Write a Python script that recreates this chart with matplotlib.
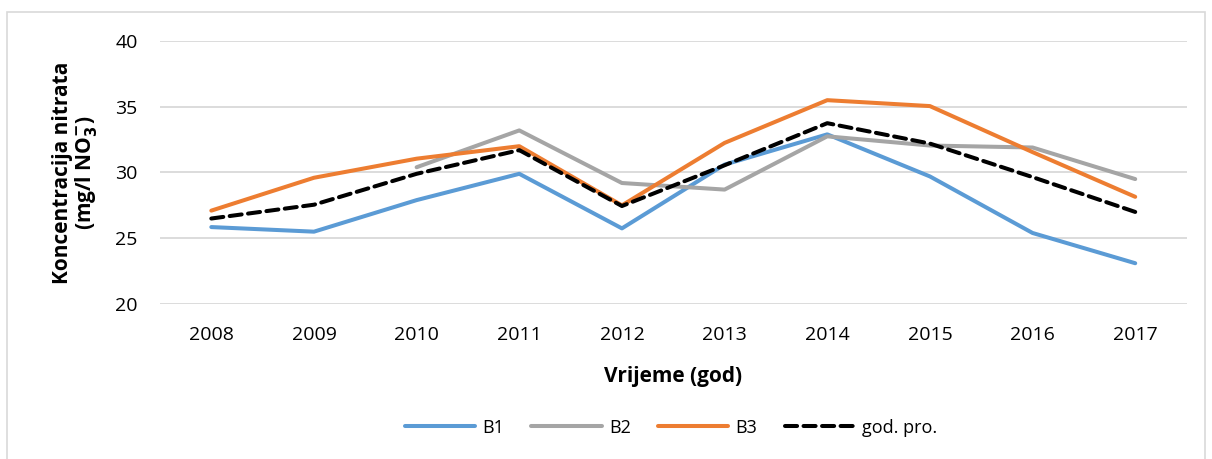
import numpy as np
import matplotlib
matplotlib.use('Agg')
import matplotlib.pyplot as plt
from matplotlib.patches import Rectangle

plt.rcParams['font.family'] = ['Open Sans', 'DejaVu Sans']

# nitrate concentration per year for the three wells and the yearly mean
years = ['2008', '2009', '2010', '2011', '2012', '2013', '2014', '2015', '2016', '2017']
b1 = [25.85, 25.5, 27.9, 29.9, 25.75, 30.6, 32.9, 29.7, 25.4, 23.1]
b2 = [np.nan, np.nan, 30.4, 33.2, 29.2, 28.7, 32.75, 32.05, 31.9, 29.5]
b3 = [27.1, 29.6, 31.05, 32.0, 27.5, 32.25, 35.5, 35.05, 31.55, 28.15]
avg = [26.5, 27.55, 29.9, 31.7, 27.45, 30.55, 33.75, 32.2, 29.65, 27.0]

fig = plt.figure(figsize=(12.12, 4.59), dpi=100)
ax = fig.add_axes([0.132, 0.3377, 0.847, 0.573])

# outer chart frame
fig.patches.append(Rectangle((7 / 1212, -0.05), 1198 / 1212, 1.05 - 12 / 459,
                             transform=fig.transFigure, fill=False,
                             edgecolor='#D9D9D9', linewidth=1.2))

x = np.arange(len(years))
lw = 2.9
ax.plot(x, b1, color='#5B9BD5', lw=lw, solid_capstyle='round', label='B1')
ax.plot(x, b2, color='#A5A5A5', lw=lw, solid_capstyle='round', label='B2')
ax.plot(x, b3, color='#ED7D31', lw=lw, solid_capstyle='round', label='B3')
ax.plot(x, avg, color='black', lw=lw, dashes=(3, 1.6), dash_capstyle='round',
        label='god. pro.')

ax.set_xlim(-0.5, len(years) - 0.5)
ax.set_ylim(20, 40)
ax.set_yticks([20, 25, 30, 35, 40])
ax.set_xticks(x)
ax.set_xticklabels(years)
ax.tick_params(length=0, labelsize=14, colors='#000000')
ax.tick_params(axis='x', pad=16)
ax.tick_params(axis='y', pad=16)
ax.grid(axis='y', color='#D9D9D9', lw=1.3)
ax.set_axisbelow(True)
for s in ax.spines.values():
    s.set_visible(False)

ax.set_xlabel('Vrijeme (god)', fontsize=15, fontweight='bold', labelpad=16)
ax.set_ylabel('Koncentracija nitrata\n(mg/l NO$_\\mathbf{3}^\\mathbf{-}$)',
              fontsize=15, fontweight='bold', labelpad=12, linespacing=1.0)

ax.legend(loc='center', bbox_to_anchor=(0.498, -0.47), ncol=4, frameon=False,
          fontsize=13, handlelength=3.9, columnspacing=1.5, handletextpad=0.4)

fig.savefig('out.png', dpi=100)
